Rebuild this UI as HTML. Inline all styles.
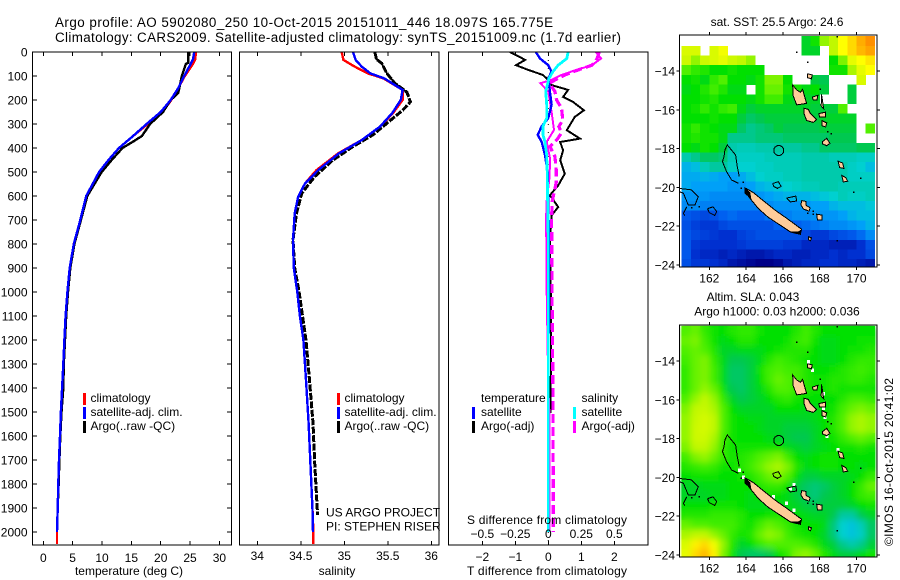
<!DOCTYPE html>
<html>
<head>
<meta charset="utf-8">
<title>Argo profile</title>
<style>
html,body{margin:0;padding:0;background:#fff;}
svg{display:block;}
text{font-family:"Liberation Sans",sans-serif;font-size:12px;fill:#000;}
.t14{font-size:13.4px;}
</style>
</head>
<body>
<svg id="chart" width="900" height="580" viewBox="0 0 900 580" xmlns="http://www.w3.org/2000/svg">
  <defs>
    <clipPath id="clip-sst"><rect x="680" y="35" width="197" height="232"/></clipPath>
    <clipPath id="clip-sla"><rect x="680" y="325" width="197" height="232"/></clipPath>
    <clipPath id="clip-t"><rect x="32" y="52" width="199" height="493"/></clipPath>
    <clipPath id="clip-s"><rect x="239" y="52" width="200" height="493"/></clipPath>
    <clipPath id="clip-d"><rect x="448" y="52" width="200" height="493"/></clipPath>
    <filter id="smooth-field" filterUnits="userSpaceOnUse" x="660" y="310" width="240" height="265">
      <feGaussianBlur in="SourceGraphic" stdDeviation="3.2" result="b"/>
      <feMerge><feMergeNode in="SourceGraphic"/><feMergeNode in="b"/></feMerge>
    </filter>
  </defs>

  <text class="t14" x="55" y="27" textLength="498">Argo profile: AO 5902080_250 10-Oct-2015 20151011_446 18.097S 165.775E</text>
  <text class="t14" x="55" y="42" textLength="566">Climatology: CARS2009. Satellite-adjusted climatology: synTS_20151009.nc (1.7d earlier)</text>

  <g id="panel-t"></g>
  <g id="panel-s"></g>
  <g id="panel-d"></g>
  <g id="map-sst"></g>
  <g id="map-sla"></g>

  <text x="129" y="575" text-anchor="middle">temperature (deg C)</text>
  <text x="337" y="575" text-anchor="middle">salinity</text>
  <text x="547" y="575" text-anchor="middle" textLength="160">T difference from climatology</text>
  <text x="547" y="524" text-anchor="middle" textLength="160">S difference from climatology</text>

  <g>
    <rect x="83" y="393" width="3" height="12" fill="#ff0000"/>
    <rect x="83" y="407" width="3" height="12" fill="#0000ff"/>
    <rect x="83" y="421" width="3" height="12" fill="#000"/>
    <text x="90.5" y="402">climatology</text>
    <text x="90.5" y="416">satellite-adj. clim.</text>
    <text x="90.5" y="430">Argo(..raw -QC)</text>
  </g>
  <g>
    <rect x="337" y="393" width="3" height="12" fill="#ff0000"/>
    <rect x="337" y="407" width="3" height="12" fill="#0000ff"/>
    <rect x="337" y="421" width="3" height="12" fill="#000"/>
    <text x="344.5" y="402">climatology</text>
    <text x="344.5" y="416">satellite-adj. clim.</text>
    <text x="344.5" y="430">Argo(..raw -QC)</text>
    <text x="326" y="516.5">US ARGO PROJECT</text>
    <text x="326" y="530.5">PI: STEPHEN RISER</text>
  </g>
  <g>
    <text x="481" y="402">temperature</text>
    <text x="481" y="416">satellite</text>
    <text x="481" y="430">Argo(-adj)</text>
    <rect x="472" y="407" width="3" height="12" fill="#0000ff"/>
    <rect x="472" y="421" width="3" height="12" fill="#000"/>
    <text x="581.5" y="402">salinity</text>
    <text x="581.5" y="416">satellite</text>
    <text x="581.5" y="430">Argo(-adj)</text>
    <rect x="573" y="407" width="3" height="12" fill="#00ffff"/>
    <rect x="573" y="421" width="3" height="12" fill="#ff00ff"/>
  </g>

  <text x="777" y="26" text-anchor="middle">sat. SST: 25.5 Argo: 24.6</text>
  <text x="753" y="301" text-anchor="middle">Altim. SLA: 0.043</text>
  <text x="777" y="315.5" text-anchor="middle">Argo h1000: 0.03 h2000: 0.036</text>
  <text transform="translate(893,546) rotate(-90)" x="0" y="0" textLength="168">©IMOS 16-Oct-2015 20:41:02</text>
</svg>

<script>
// ---------- profile data ----------
const tempDepth = [0,30,50,100,150,200,250,300,350,400,450,500,600,700,800,900,1000,1100,1200,1300,1400,1500,1600,1700,1800,1900,2000];
const tempClim  = [26,25.9,25.5,24.1,23,21.8,20.3,17.8,15.3,12.9,11.1,9.5,7.4,6.3,5.2,4.5,4.1,3.8,3.6,3.4,3.2,3,2.85,2.68,2.56,2.45,2.33];
const tempSat   = [25.7,25.5,25.1,24,23,21.7,20,17.6,15.3,12.9,11.1,9.5,7.3,6.3,5.2,4.5,4.1,3.8,3.6,3.4,3.2,3,2.85,2.68,2.56,2.45,2.33];
const argoTempDepth = [0,45,50,100,170,200,250,300,350,375,400,450,500,600,700,800,900,1000,1100,1200,1300,1400,1500,1600,1700,1800,1860];
const tempArgo  = [24.7,24.7,24.3,23.6,23,21.7,20.4,18.2,16.8,15.2,13.5,11.65,9.95,7.5,6.4,5.3,4.6,4.2,3.9,3.7,3.5,3.4,3.1,2.9,2.75,2.6,2.55];

const salDepth = [0,33,61,89,110,158,200,255,311,367,422,492,547,603,672,783,900,1000,1100,1200,1367,1546,1713,1908,2000];
const salClim  = [34.97,34.99,35.12,35.27,35.45,35.67,35.67,35.56,35.41,35.2,34.93,34.68,34.55,34.47,34.43,34.41,34.42,34.46,34.49,34.53,34.56,34.59,34.61,34.635,34.645];
const salSat   = [35.1,35.13,35.2,35.3,35.46,35.67,35.65,35.55,35.41,35.2,34.94,34.7,34.55,34.47,34.43,34.41,34.42,34.46,34.49,34.53,34.56,34.59,34.61,34.635,34.64];
const argoSalDepth = [0,30,47,89,130,167,208,243,297,345,394,450,519,589,672,783,900,1000,1100,1200,1367,1546,1713,1908,1930];
const salArgo  = [35.35,35.37,35.43,35.49,35.58,35.72,35.76,35.67,35.49,35.33,35.1,34.87,34.66,34.51,34.45,34.41,34.43,34.48,34.52,34.56,34.6,34.64,34.66,34.69,34.69];

const dTempDepth = [0,33,55,75,96,117,138,158,187,208,243,271,326,361,375,410,451,507,556,597,646,681,792,1000,1300,1505];
const dTempArgo  = [-1.16,-0.7,-0.98,-0.6,-0.16,0,0.1,0.6,0.45,0.75,1.08,0.8,0.56,0.96,0.36,0.45,0.36,0.5,0.3,0.05,0.3,0.1,0.05,0.08,0.08,0.06];
const dSatDepth = [0,27,55,82,110,165,220,275,310,345,375,430,500,790,1400,2000];
const dTempSat  = [-0.38,-0.25,0,0.1,0,0.05,0.1,0,-0.2,-0.32,-0.2,-0.1,-0.02,0.02,0,0];
const dSalSat   = [0.15,0.14,0.074,0.035,0.005,-0.02,-0.012,-0.012,-0.04,-0.04,-0.025,-0.012,-0.008,0,0,0];
const dSalDepth = [0,27,55,75,96,117,130,165,200,234,283,311,338,367,394,436,490,545,620,690,1000,1400,1900,2000];
const dSalArgo  = [0.386,0.37,0.33,0.225,0.125,0.05,0.01,0.05,0.063,0.1,0.11,0.08,0.1,0.063,0.013,0.05,0.06,0.06,0.03,0.025,0.028,0.035,0.038,0.038];
const dSalRawDepth = [0,27,55,75,96,117,130,165,250,325,374,408,442,520,620,690,1000,1400,1500,2000];
const dSalRaw = [0.36,0.4,0.33,0.21,0.1,0.02,-0.06,0,0.025,0.043,-0.012,0,0.013,0.01,-0.012,-0.017,-0.012,0,0.008,0.008];

// ---------- axis tick labels ----------
const depthTicks = [0,100,200,300,400,500,600,700,800,900,1000,1100,1200,1300,1400,1500,1600,1700,1800,1900,2000];
const tempTicks = [0,5,10,15,20,25,30];
const salTicks = [34,34.5,35,35.5,36];
const dTempTicks = [-2,-1,0,1,2];
const dSalTicks = [-0.5,-0.25,0,0.25,0.5];
const lonTicks = [162,164,166,168,170];
const latTicks = [-14,-16,-18,-20,-22,-24];

// ---------- map grids (0.5 degree cells; null = no data) ----------
const gridLon0 = 160.5;
const gridLat0 = -12.2;
const n = null;
const sstRows = [
[n,n,n,n,n,n,n,n,n,n,n,n,n,26.3,26.6,27.3,27.5,28,28.3,28.7,29],
[27.7,27.7,n,27.7,27.9,n,n,n,n,n,n,n,n,26.3,26.3,n,27.5,28,28.3,28.6,28.8],
[27.6,27.3,27.6,27.7,27.8,27.6,27.5,27.3,n,n,n,n,n,n,n,n,26.5,27.2,27.8,28,28.2],
[27,26.8,26.7,26.5,26.5,26.6,26.5,26.5,26.5,n,n,n,n,n,n,n,26.6,26.6,27.4,27.8,28],
[26.5,26.6,26.4,26.8,27,26.5,26.5,26.4,26.6,27.2,27.2,26.5,n,n,26.2,26.1,n,n,n,27.7,n],
[26.4,26.5,26.7,26.9,26.7,26.4,26.4,n,26.6,27.1,27.1,26.6,26.6,26.4,26.5,26.2,n,n,26.2,n,n],
[26.5,26.5,26.6,26.7,26.5,26.5,26.5,26.4,26.6,26.9,26.9,26.4,26.3,26.3,26.3,n,n,n,26.2,n,n],
[26.5,26.6,26.8,26.6,26.8,26.9,26.4,26.2,26.3,26.3,26.3,26.3,26.3,26.3,26.2,26.2,26.2,27,n,n,n],
[26.5,26.5,26.5,26.6,26.5,26.5,26.2,26,26.1,26.2,26.2,26.2,26.2,26.2,26.2,26.3,26.3,26.3,26.3,n,n],
[26.6,26.8,26.6,26.5,26.4,26.4,26,25.8,25.9,26,26.2,26.1,26.1,26.1,26.1,26.2,26.2,26.2,26.2,n,27],
[26.6,26.7,26.6,26.6,26.4,25.8,25.8,25.8,25.9,25.9,25.9,26,26,26,26,26,26.1,26.1,26.1,n,n],
[26.5,26.4,26.6,26.5,26.2,25.6,25.5,25.5,25.6,25.6,25.7,25.7,25.7,25.8,25.8,26,26,26,26,26.1,26.1],
[25.6,25.8,26,26,25.9,25.5,25.4,25.4,25.4,25.5,25.5,25.5,25.5,25.6,25.6,25.6,25.5,25.5,25.5,25.4,25.4],
[25,25.1,25.5,25.7,25.7,25.4,25.3,25.3,25.4,25.4,25.5,25.5,25.5,25.6,25.6,25.6,25.6,25.6,25.4,25.3,25.1],
[24.9,24.9,25,24.9,24.8,24.8,24.9,25.1,25.3,25.4,25.4,25.5,25.5,25.6,25.6,25.6,25.6,25.6,25.4,25.4,25.4],
[24.9,24.8,24.8,24.8,24.8,24.7,24.7,24.8,25,25.1,25.2,25.3,25.4,25.5,25.5,25.6,25.6,25.5,25.5,25.5,25.5],
[24.7,24.7,24.7,24.6,24.6,24.6,24.6,24.6,24.7,24.8,24.9,25,25,25,25.1,25.2,25.3,25.5,25.4,25.4,25.5],
[24.6,24.6,24.5,24.5,24.5,24.5,24.5,24.5,24.5,24.6,24.7,24.7,24.7,24.7,24.8,24.8,25,25.1,25.1,25.1,25.2],
[24.1,24,23.9,24,24.2,24.3,24.2,24.2,24.2,24.4,24.4,24.5,24.6,24.6,24.7,24.7,24.7,24.8,25,25.1,25.1],
[24,23.8,23.7,23.7,23.9,24,24,24,24,24,24.2,24.2,24.2,24.3,24.4,24.5,24.6,24.6,24.7,24.8,25],
[24.1,23.9,23.8,23.7,23.6,23.6,23.8,23.9,24,24,24,24,24,23.9,23.7,23.7,23.9,24,24.1,24.3,24.6],
[24.1,23.7,23.6,23.6,23.6,23.6,23.7,23.8,23.8,23.8,23.8,23.7,23.7,23.5,23.5,23.5,23.4,23.4,23.4,23.6,24],
[24.1,23.6,23.5,23.5,23.4,23.5,23.4,23.3,23.3,23.4,23.5,23.5,23.4,23.4,23.5,23.5,23.6,23.5,23.6,23.6,23.9],
[24,23.7,23.7,23.6,23.5,23.3,23.2,23.1,23,23,23.1,23.3,23.4,23.5,23.5,23.6,23.6,23.5,23.5,23.4,23.3]
];
const slaRows = [
[.10,.11,.08,.06,.05,.07,.08,.08,.06,.05,.05,.05,.07,.09,.07,.05,.05,.05,.05,.05,.05],
[.11,.12,.09,.06,.04,.05,.07,.07,.05,.05,.05,.06,.08,.09,.06,.04,.04,.05,.05,.06,.06],
[.10,.11,.10,.07,.03,.03,.04,.04,.04,.05,.06,.07,.07,.07,.05,.04,.04,.05,.06,.06,.07],
[.09,.11,.12,.08,.04,.01,.01,.02,.04,.07,.09,.08,.07,.06,.05,.04,.04,.05,.07,.08,.08],
[.08,.11,.12,.09,.04,.00,.00,.02,.06,.09,.10,.09,.09,.07,.05,.05,.06,.07,.08,.09,.08],
[.08,.11,.12,.09,.04,.00,.00,.02,.05,.09,.11,.10,.09,.07,.06,.06,.07,.07,.08,.08,.07],
[.08,.11,.13,.11,.06,.01,.00,.02,.04,.07,.10,.10,.08,.07,.06,.06,.07,.06,.06,.06,.06],
[.10,.13,.15,.13,.08,.03,.01,.02,.03,.05,.07,.08,.06,.05,.05,.05,.05,.07,.09,.09,.08],
[.12,.15,.155,.14,.10,.05,.03,.03,.03,.03,.05,.05,.05,.04,.04,.05,.06,.09,.11,.12,.11],
[.13,.155,.165,.15,.10,.06,.05,.04,.04,.03,.03,.03,.03,.03,.04,.05,.07,.10,.13,.14,.13],
[.13,.16,.165,.15,.10,.06,.05,.05,.04,.03,.03,.02,.02,.02,.03,.05,.07,.10,.13,.14,.13],
[.13,.16,.16,.14,.09,.06,.05,.05,.05,.04,.03,.02,.01,.01,.03,.05,.06,.08,.10,.11,.10],
[.12,.15,.15,.13,.08,.06,.06,.06,.06,.06,.06,.04,.03,.02,.03,.04,.05,.06,.06,.07,.06],
[.09,.12,.13,.11,.08,.06,.07,.08,.10,.11,.12,.09,.05,.04,.05,.06,.06,.05,.05,.05,.05],
[.07,.08,.09,.08,.06,.06,.07,.09,.11,.13,.14,.12,.07,.04,.05,.06,.06,.05,.05,.04,.05],
[.05,.06,.06,.06,.05,.05,.06,.07,.09,.11,.12,.10,.05,.02,.02,.03,.03,.03,.04,.05,.08],
[.03,.03,.04,.04,.04,.05,.05,.05,.07,.08,.08,.06,.02,.00,-.01,.00,.02,.03,.05,.08,.11],
[.03,.03,.03,.04,.04,.05,.05,.04,.05,.05,.05,.04,.02,.00,-.01,.01,.02,.03,.05,.08,.09],
[.05,.05,.05,.06,.06,.06,.05,.04,.04,.04,.04,.04,.03,.02,.01,.02,.02,.02,.03,.05,.06],
[.07,.07,.07,.08,.08,.08,.07,.05,.05,.06,.07,.06,.05,.04,.03,.03,.01,-.03,-.03,.01,.03],
[.11,.10,.10,.09,.09,.09,.07,.06,.09,.11,.10,.08,.06,.05,.05,.04,-.01,-.07,-.085,-.05,.00],
[.14,.15,.15,.13,.11,.08,.06,.07,.11,.13,.12,.09,.07,.06,.05,.03,-.01,-.07,-.085,-.06,.00],
[.17,.21,.23,.19,.13,.07,.03,.05,.08,.10,.10,.10,.10,.09,.07,.04,.02,-.02,-.04,-.02,.02],
[.18,.23,.26,.21,.12,.06,.01,.00,.00,.01,.05,.08,.12,.13,.11,.07,.04,.02,.02,.04,.06]
];

// ---------- coastlines (lon,lat) ----------
const landShapes = [
 [[164,-20.05],[164.39,-20.27],[164.93,-20.68],[165.57,-21.17],[166.2,-21.59],[167.02,-22.16],[166.93,-22.4],[166.38,-22.28],[165.84,-21.94],[165.2,-21.54],[164.66,-21.08],[164.21,-20.56],[163.94,-20.22]],
 [[166.53,-14.72],[166.75,-14.98],[166.95,-15.1],[167.07,-14.95],[167.29,-15.67],[166.75,-15.75],[166.55,-15.25]],
 [[167.14,-15.92],[167.38,-15.98],[167.5,-16.2],[167.83,-16.5],[167.65,-16.65],[167.29,-16.55],[167.14,-16.18]],
 [[168.16,-17.64],[168.38,-17.47],[168.56,-17.73],[168.38,-17.85],[168.16,-17.76]],
 [[169,-18.65],[169.25,-18.75],[169.32,-19.02],[169.08,-18.98]],
 [[169.2,-19.38],[169.42,-19.5],[169.52,-19.68],[169.28,-19.72]],
 [[167.02,-20.68],[167.25,-20.72],[167.25,-20.92],[167.48,-21.05],[167.42,-21.22],[167.12,-21.12],[166.98,-20.9]],
 [[167.83,-21.38],[168.12,-21.43],[168.12,-21.67],[167.88,-21.67]],
 [[167.35,-14.15],[167.6,-14.2],[167.55,-14.4],[167.35,-14.35]],
 [[167.6,-15.35],[167.9,-15.25],[167.85,-15.5],[167.65,-15.5]],
 [[168.1,-15.2],[168.22,-15.95],[168.08,-15.8]],
 [[167.95,-16.2],[168.32,-16.12],[168.32,-16.37],[168,-16.37]],
 [[168.12,-16.55],[168.38,-16.68],[168.32,-16.88],[168.12,-16.82]],
 [[167.4,-22.55],[167.55,-22.6],[167.5,-22.75],[167.4,-22.7]]
];
const darkShapes = [
 [[163.95,-20.03],[164.2,-20.27],[164.25,-20.55],[163.95,-20.3]],
 [[166.4,-22.3],[166.95,-22.42],[167,-22.2],[166.85,-22.3]]
];
const reefLines = [
 [[163.63,-19.45],[163.52,-18.93],[163.43,-18.33],[162.98,-17.81],[162.85,-18.07],[162.8,-18.42],[162.72,-18.67],[162.94,-19.19],[163.21,-19.62],[163.58,-19.79]],
 [[165.45,-19.8],[165.75,-19.7],[165.9,-19.95],[165.7,-20.05],[165.5,-19.95],[165.45,-19.8]],
 [[160.37,-20.05],[161.04,-20.13],[161.4,-20.48],[161.22,-20.91],[160.86,-20.91],[160.59,-20.3],[160.37,-20.22]],
 [[160.77,-21],[160.59,-21.34],[160.68,-21.47]],
 [[161.9,-21.1],[162.2,-21],[162.4,-21.25],[162.3,-21.45],[162,-21.3],[161.9,-21.1]],
 [[166.2,-20.55],[166.7,-20.45],[166.75,-20.7],[166.4,-20.75],[166.2,-20.55]]
];
const specks = [[166.7,-13],[167.3,-13.5],[168,-14.9],[168.4,-17.1],[168.6,-17.2],[167.6,-21.2],[170.2,-19.5],[169.8,-20.2],[163.8,-19.7],[163.7,-20],[168.9,-22.7],[168.9,-12.2],[161,-21],[161.4,-20.95],[167.3,-21.3],[167.6,-21.35]];
const slaGaps = [[163.65,-19.65],[163.85,-20],[166.6,-20.4],[166.4,-20.6],[167.4,-14.05],[167.6,-14.5],[168.2,-15.7],[168.2,-16.45],[168.3,-16.9],[168.4,-17.9],[169,-18.6],[165.5,-21],[166.2,-21.35],[166.6,-21.7]];
const argoLon = 165.775;
const argoLat = -18.097;

// ---------- scales ----------
const svg = document.getElementById('chart');
const NS = 'http://www.w3.org/2000/svg';
const yDepth = d => 52 + d * 0.24;
const xTemp = v => 43.3 + v * 5.87;
const xSal = v => 257.3 + (v - 34) * 87;
const xDT = v => 548.3 + v * 33;
const xDS = v => 548.3 + v * 132;
const xLon = v => 709.3 + (v - 162) * 18.4;
const yLatBase = v => 71 + (-14 - v) * 19.4;

function mk(tag, parent, attrs) {
  const e = document.createElementNS(NS, tag);
  for (const k in attrs) e.setAttribute(k, attrs[k]);
  parent.appendChild(e);
  return e;
}
function series(parent, xs, ds, sx, color, width, dash, clip, name) {
  const pts = ds.map((d, i) => sx(xs[i]).toFixed(1) + ',' + yDepth(d).toFixed(1)).join(' ');
  const line = mk('polyline', parent, {points: pts, fill: 'none', stroke: color, 'stroke-width': width, 'clip-path': 'url(#' + clip + ')', 'shape-rendering': 'crispEdges'});
  if (dash) line.setAttribute('stroke-dasharray', dash);
  
  
}
function frame(parent, x, y, w, h) {
  const r = mk('rect', parent, {x: x, y: y, width: w, height: h, fill: 'none', stroke: '#000', 'stroke-width': 1, 'shape-rendering': 'crispEdges'});
  
  
}
function tick(parent, x1, y1, x2, y2) {
  const l = mk('line', parent, {x1: x1, y1: y1, x2: x2, y2: y2, stroke: '#000', 'stroke-width': 1, 'shape-rendering': 'crispEdges'});
  
  
}
function label(parent, x, y, str, anchor) {
  const t = mk('text', parent, {x: x, y: y, 'text-anchor': anchor});
  t.textContent = str;
  
  
}

// ---------- temperature panel ----------
const pT = document.getElementById('panel-t');
series(pT, tempClim.concat([2.33]), tempDepth.concat([2050]), xTemp, '#ff0000', 2.4, null, 'clip-t', 'temperature-climatology-line');
series(pT, tempArgo, argoTempDepth, xTemp, '#000', 2.4, null, 'clip-t', 'temperature-argo-line');
series(pT, tempSat, tempDepth, xTemp, '#0000ff', 2.4, null, 'clip-t', 'temperature-satellite-line');
frame(pT, 32.5, 52, 199, 493);
tempTicks.forEach(v => {
  tick(pT, xTemp(v), 52, xTemp(v), 56);
  tick(pT, xTemp(v), 545, xTemp(v), 541);
  label(pT, xTemp(v), 562, String(v), 'middle');
});
depthTicks.forEach(d => {
  tick(pT, 32.5, yDepth(d), 37, yDepth(d));
  tick(pT, 231.5, yDepth(d), 227, yDepth(d));
  label(pT, 27.5, yDepth(d) + 4.5, String(d), 'end');
});

// ---------- salinity panel ----------
const pS = document.getElementById('panel-s');
series(pS, salClim.concat([34.645]), salDepth.concat([2050]), xSal, '#ff0000', 2.4, null, 'clip-s', 'salinity-climatology-line');
series(pS, salArgo, argoSalDepth, xSal, '#000', 3, '7,1.5', 'clip-s', 'salinity-argo-line');
series(pS, salArgo.slice(0, 6), argoSalDepth.slice(0, 6), xSal, '#000', 1.8, null, 'clip-s', 'salinity-argo-raw-line');
series(pS, salSat, salDepth, xSal, '#0000ff', 2.4, null, 'clip-s', 'salinity-satellite-line');
frame(pS, 239.5, 52, 199.5, 493);
salTicks.forEach(v => {
  tick(pS, xSal(v), 52, xSal(v), 56);
  tick(pS, xSal(v), 545, xSal(v), 541);
  label(pS, xSal(v), 560, String(v), 'middle');
});

// ---------- difference panel ----------
const pD = document.getElementById('panel-d');
const zeroLine = mk('line', pD, {x1: xDT(0), y1: 52, x2: xDT(0), y2: 545, stroke: '#000', 'stroke-width': 1, 'stroke-dasharray': '1,7'});


series(pD, dTempArgo, dTempDepth, xDT, '#000', 2, null, 'clip-d', 'temperature-difference-argo-line');
series(pD, dSalRaw, dSalRawDepth, xDS, '#ff00ff', 2, null, 'clip-d', 'salinity-difference-raw-line');
series(pD, dSalArgo, dSalDepth, xDS, '#ff00ff', 3.2, '9,4', 'clip-d', 'salinity-difference-argo-line');
series(pD, dTempSat, dSatDepth, xDT, '#0000ff', 2.4, null, 'clip-d', 'temperature-difference-satellite-line');
series(pD, dSalSat, dSatDepth, xDS, '#00ffff', 2.8, null, 'clip-d', 'salinity-difference-satellite-line');
frame(pD, 448.5, 52, 199.5, 493);
dTempTicks.forEach(v => {
  tick(pD, xDT(v), 52, xDT(v), 56);
  tick(pD, xDT(v), 545, xDT(v), 541);
  label(pD, xDT(v), 561, String(v).replace('-', '\u2212'), 'middle');
});
dSalTicks.forEach(v => {
  label(pD, xDS(v), 538, String(v).replace('-', '\u2212'), 'middle');
});

// ---------- maps ----------
const colorStops = [[0,[0,0,136]],[0.1,[0,48,208]],[0.2,[0,96,240]],[0.3,[0,160,248]],[0.383,[0,208,208]],[0.45,[0,200,160]],[0.517,[0,200,80]],[0.583,[0,224,0]],[0.667,[80,240,0]],[0.75,[192,248,0]],[0.833,[255,255,0]],[0.917,[255,192,0]],[1,[255,144,0]]];
function colormap(t) {
  t = Math.max(0, Math.min(1, t));
  for (let i = 1; i < colorStops.length; i++) {
    if (t <= colorStops[i][0]) {
      const a = colorStops[i - 1], b = colorStops[i];
      const f = (t - a[0]) / (b[0] - a[0]);
      return 'rgb(' + a[1].map((c, k) => Math.round(c + (b[1][k] - c) * f)).join(',') + ')';
    }
  }
  return 'rgb(255,144,0)';
}
function pointList(s, yLat) {
  return s.map(q => xLon(q[0]).toFixed(1) + ',' + yLat(q[1]).toFixed(1)).join(' ');
}
function drawMap(group, rows, norm, dy, clip, smooth, gaps) {
  const yLat = v => yLatBase(v) + dy;
  const outer = mk('g', group, {'clip-path': 'url(#' + clip + ')'});
  
  
  const cells = mk('g', outer, {'shape-rendering': 'crispEdges'});
  if (smooth) cells.setAttribute('filter', 'url(#smooth-field)');
  
  
  rows.forEach((row, j) => {
    row.forEach((v, i) => {
      if (v === null) return;
      const lon = gridLon0 + i * 0.5;
      const lat = gridLat0 - j * 0.5;
      const c = mk('rect', cells, {x: xLon(lon), y: yLat(lat), width: 9.4, height: 9.9, fill: colormap(norm(v))});
      
      
    });
  });
  gaps.forEach(q => {
    const w = mk('rect', outer, {x: xLon(q[0]) - 1.5, y: yLat(q[1]) - 2, width: 3, height: 3.5, fill: '#fff', 'shape-rendering': 'crispEdges'});
    
    
  });
  const coast = mk('g', outer, {'shape-rendering': 'crispEdges'});
  
  
  landShapes.forEach(s => {
    const p = mk('polygon', coast, {points: pointList(s, yLat), fill: '#ffcc99', stroke: '#000', 'stroke-width': 1});
    
    
  });
  darkShapes.forEach(s => {
    const p = mk('polygon', coast, {points: pointList(s, yLat), fill: '#000', stroke: '#000', 'stroke-width': 1});
    
    
  });
  reefLines.forEach(s => {
    const p = mk('polyline', coast, {points: pointList(s, yLat), fill: 'none', stroke: '#000', 'stroke-width': 1});
    
    
  });
  specks.forEach(q => {
    const r = mk('rect', coast, {x: xLon(q[0]), y: yLat(q[1]), width: 1.5, height: 1.5, fill: '#000'});
    
    
  });
  const marker = mk('circle', group, {cx: xLon(argoLon), cy: yLat(argoLat), r: 5, fill: 'none', stroke: '#000', 'stroke-width': 1, 'shape-rendering': 'crispEdges'});
  
  
  const top = 35 + dy, bottom = 266.8 + dy, left = 679.5, right = 877;
  frame(group, left, top, right - left, bottom - top);
  lonTicks.forEach(v => {
    tick(group, xLon(v), top, xLon(v), top - 3);
    tick(group, xLon(v), bottom, xLon(v), bottom + 3);
    label(group, xLon(v), bottom + 15.5, String(v), 'middle');
  });
  latTicks.forEach(v => {
    tick(group, left, yLat(v), left - 3, yLat(v));
    tick(group, right, yLat(v), right + 3, yLat(v));
    label(group, 675, yLat(v) + 4.5, String(v).replace('-', '\u2212'), 'end');
  });
}
drawMap(document.getElementById('map-sst'), sstRows, v => (v - 23) / 6, 0, 'clip-sst', false, []);
drawMap(document.getElementById('map-sla'), slaRows, v => (v + 0.3) / 0.6, 290, 'clip-sla', true, slaGaps);
</script>
</body>
</html>
